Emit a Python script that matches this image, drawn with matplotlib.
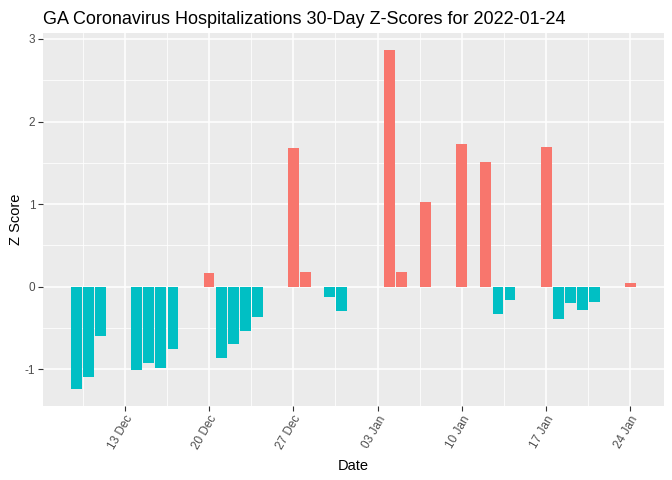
import matplotlib
matplotlib.use("Agg")
import matplotlib.pyplot as plt
import matplotlib.dates as mdates
import pandas as pd
import numpy as np

dates = ["2021-12-09", "2021-12-10", "2021-12-11", "2021-12-14", "2021-12-15",
         "2021-12-16", "2021-12-17", "2021-12-20", "2021-12-21", "2021-12-22",
         "2021-12-23", "2021-12-24", "2021-12-27", "2021-12-28", "2021-12-30",
         "2021-12-31", "2022-01-04", "2022-01-05", "2022-01-07", "2022-01-10",
         "2022-01-12", "2022-01-13", "2022-01-14", "2022-01-17", "2022-01-18",
         "2022-01-19", "2022-01-20", "2022-01-21", "2022-01-24"]
zscores = [-1.24, -1.10, -0.60, -1.01, -0.93,
           -0.99, -0.76, 0.17, -0.87, -0.70,
           -0.54, -0.37, 1.68, 0.18, -0.12,
           -0.29, 2.87, 0.18, 1.02, 1.73,
           1.51, -0.33, -0.16, 1.69, -0.39,
           -0.20, -0.28, -0.19, 0.04]
tick_dates = ["2021-12-13", "2021-12-20", "2021-12-27", "2022-01-03",
              "2022-01-10", "2022-01-17", "2022-01-24"]
tick_labels = ["13 Dec", "20 Dec", "27 Dec", "03 Jan", "10 Jan", "17 Jan", "24 Jan"]
title = "GA Coronavirus Hospitalizations 30-Day Z-Scores for 2022-01-24"

plt.rcParams['font.family'] = ['Liberation Sans', 'DejaVu Sans']

x = mdates.date2num(pd.to_datetime(dates))
y = np.array(zscores)
colors = np.where(y > 0, "#F8766D", "#00BFC4")

W, H = 672, 480
fig = plt.figure(figsize=(W / 100, H / 100), dpi=100)
left, right, top, bottom = 43, 664, 32.7, 406
ax = fig.add_axes([left / W, 1 - bottom / H, (right - left) / W, (bottom - top) / H])
ax.set_facecolor("#EBEBEB")
for s in ax.spines.values():
    s.set_visible(False)

ax.bar(x, y, width=0.9, color=colors, zorder=3)

# ggplot-style expansion
xlo, xhi = x.min() - 0.45, x.max() + 0.45
xr = xhi - xlo
xlim = (xlo - 0.05 * xr, xhi + 0.05 * xr)
ylo, yhi = y.min(), y.max()
yr = yhi - ylo
ylim = (ylo - 0.05 * yr, yhi + 0.05 * yr)

tx = mdates.date2num(pd.to_datetime(tick_dates))
ax.set_xticks(tx)
ax.set_xticklabels(tick_labels, rotation=60, ha="right", rotation_mode="anchor")
minor_x = np.concatenate([[tx[0] - 3.5], tx + 3.5])
minor_x = minor_x[(minor_x > xlim[0]) & (minor_x < xlim[1])]
ax.set_xticks(minor_x, minor=True)
ax.set_yticks([-1, 0, 1, 2, 3])
ax.set_yticklabels(["-1", "0", "1", "2", "3"])
ax.set_yticks([-0.5, 0.5, 1.5, 2.5], minor=True)
ax.set_xlim(*xlim)
ax.set_ylim(*ylim)

ax.grid(which="major", color="white", linewidth=1.1, zorder=1)
ax.grid(which="minor", color="white", linewidth=0.55, zorder=1)
ax.set_axisbelow(True)

ax.tick_params(axis="both", which="major", length=3.5, width=0.8, color="#333333",
               labelcolor="#4D4D4D", labelsize=8.5, pad=2)
ax.tick_params(axis="both", which="minor", length=0)

ax.set_xlabel("Date", fontsize=10.5, color="black", labelpad=5)
ax.set_ylabel("Z Score", fontsize=10.5, color="black", labelpad=1)

fig.text(left / W, 1 - 24 / H, title, fontsize=13.0, color="black", ha="left", va="baseline")

fig.savefig("out.png", dpi=100)
